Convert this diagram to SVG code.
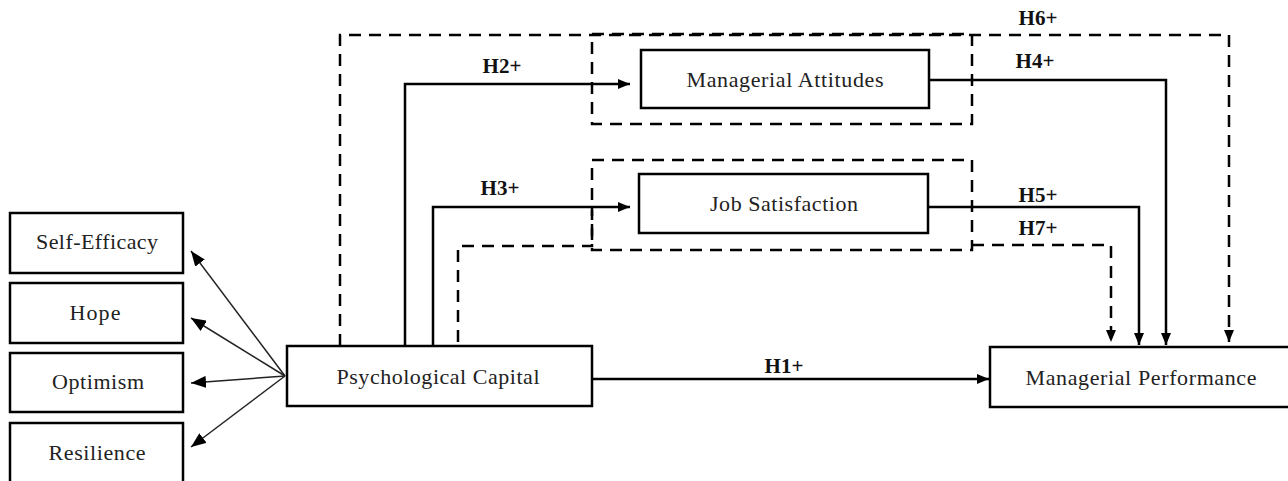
<svg xmlns="http://www.w3.org/2000/svg" width="1288" height="481" viewBox="0 0 1288 481">
<defs>
<style>
text{font-family:'Liberation Serif','Times New Roman',serif}
.box{fill:#fff;stroke:#000;stroke-width:2.5}
.t{font-size:22px;fill:#222;text-anchor:middle}
.lb{font-size:21px;font-weight:bold;fill:#111;text-anchor:middle}
.sol{fill:none;stroke:#000;stroke-width:2.5}
.dash{fill:none;stroke:#000;stroke-width:2.5;stroke-dasharray:12 8}
.thin{fill:none;stroke:#222;stroke-width:1.5}
</style>
<marker id="ah" markerWidth="12" markerHeight="10" refX="12" refY="5" orient="auto" markerUnits="userSpaceOnUse">
<path d="M0,0 L12,5 L0,10 Z" fill="#000"/>
</marker>
<marker id="ah2" markerWidth="15" markerHeight="12" refX="15" refY="6" orient="auto" markerUnits="userSpaceOnUse">
<path d="M0,0 L15,6 L0,12 Z" fill="#000"/>
</marker>
</defs>
<g id="connectors">
<path class="thin" d="M285,376 L191,251" marker-end="url(#ah2)"/>
<path class="thin" d="M285,376 L191,318" marker-end="url(#ah2)"/>
<path class="thin" d="M285,376 L191,383" marker-end="url(#ah2)"/>
<path class="thin" d="M285,376 L191,447" marker-end="url(#ah2)"/>
<path class="sol" d="M592,379 H989" marker-end="url(#ah)"/>
<path class="sol" d="M405,346 V84 H630" marker-end="url(#ah)"/>
<path class="sol" d="M433,346 V207 H630" marker-end="url(#ah)"/>
<path class="sol" d="M929,80 H1166 V345" marker-end="url(#ah)"/>
<path class="sol" d="M928,207 H1139 V345" marker-end="url(#ah)"/>
<path class="dash" d="M340,346 V35 H1229 V342" marker-end="url(#ah)"/>
<path class="dash" d="M458,342 V246 H592 V210"/>
<path class="dash" d="M972,245 H1111 V342" marker-end="url(#ah)"/>
<rect class="dash" x="592" y="34" width="380" height="90"/>
<rect class="dash" x="592" y="160" width="380" height="90"/>
<text class="lb" x="502" y="73">H2+</text>
<text class="lb" x="500" y="195">H3+</text>
<text class="lb" x="1038" y="25">H6+</text>
<text class="lb" x="1035" y="68">H4+</text>
<text class="lb" x="1038" y="202">H5+</text>
<text class="lb" x="1038" y="235">H7+</text>
<text class="lb" x="784" y="373">H1+</text>
</g>
<g id="self-efficacy"><rect class="box" x="10" y="213" width="173" height="60"/><text class="t" x="97" y="249" textLength="122">Self-Efficacy</text></g>
<g id="hope"><rect class="box" x="10" y="283" width="173" height="60"/><text class="t" x="95" y="320" textLength="51">Hope</text></g>
<g id="optimism"><rect class="box" x="10" y="353" width="173" height="59"/><text class="t" x="98" y="389" textLength="92">Optimism</text></g>
<g id="resilience"><rect class="box" x="10" y="423" width="173" height="62"/><text class="t" x="97" y="460" textLength="97">Resilience</text></g>
<g id="psychological-capital"><rect class="box" x="287" y="346" width="305" height="60"/><text class="t" x="438" y="384" textLength="203">Psychological Capital</text></g>
<g id="managerial-attitudes"><rect class="box" x="641" y="50" width="288" height="58"/><text class="t" x="785" y="87" textLength="197">Managerial Attitudes</text></g>
<g id="job-satisfaction"><rect class="box" x="639" y="174" width="289" height="59"/><text class="t" x="784" y="211" textLength="148">Job Satisfaction</text></g>
<g id="managerial-performance"><rect class="box" x="990" y="347" width="310" height="60"/><text class="t" x="1141" y="385" textLength="231">Managerial Performance</text></g>
</svg>
